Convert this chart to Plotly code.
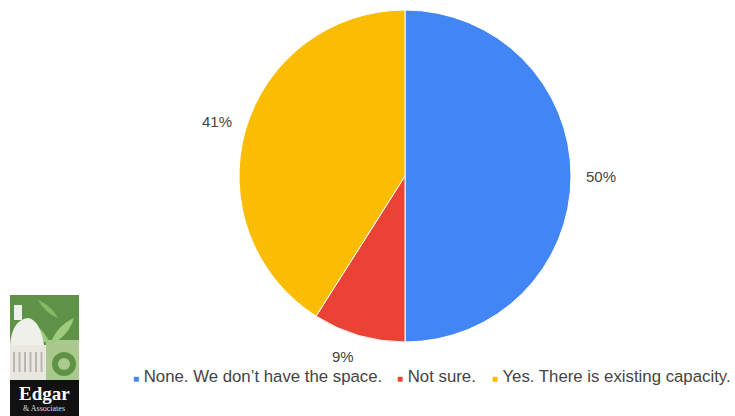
import math
import plotly.graph_objects as go

# Survey responses
categories = ["None. We don\u2019t have the space.", "Not sure.", "Yes. There is existing capacity."]
shares = [50, 9, 41]
colors = ["#4285F4", "#EA4335", "#FBBC04"]

W, H = 735, 416
cx, cy, rad = 405, 176, 166


def px(x):
    return x / W


def py(y):
    return 1 - y / H


fig = go.Figure(go.Pie(
    labels=categories,
    values=shares,
    sort=False,
    direction="clockwise",
    rotation=0,
    marker=dict(colors=colors, line=dict(color="white", width=1)),
    textinfo="none",
    hoverinfo="label+percent",
    showlegend=False,
    domain=dict(x=[px(cx - rad), px(cx + rad)], y=[py(cy + rad), py(cy - rad)]),
))

annotations = []
# percentage labels outside each slice, placed along the slice's mid-angle;
# thin slices get their label tucked in a little
total = sum(shares)
start = 0.0
for v in shares:
    mid = (start + v / 2) / total * 2 * math.pi
    start += v
    thin = v / total <= 0.15
    r = rad * (1.13 if thin else 1.18)
    lx = cx + r * math.sin(mid) - (10 if thin else 0)
    ly = cy - r * math.cos(mid)
    annotations.append(dict(
        x=px(lx), y=py(ly), xref="paper", yref="paper",
        text=f"{round(v / total * 100)}%", showarrow=False,
        font=dict(family="Liberation Sans, Arial", size=15, color="#444444"),
        xanchor="center", yanchor="middle",
    ))

# legend row, one entry per category
legend_x = [131, 395, 490]
for lab, c, lx in zip(categories, colors, legend_x):
    annotations.append(dict(
        x=px(lx), y=py(376), xref="paper", yref="paper",
        text=f"<span style='color:{c};font-size:10px'>\u25A0</span> {lab}",
        showarrow=False,
        font=dict(family="Liberation Sans, Arial", size=16.8, color="#444444"),
        xanchor="left", yanchor="middle",
    ))

# logo text
annotations.append(dict(
    x=px(44), y=py(393), xref="paper", yref="paper", text="<b>Edgar</b>",
    showarrow=False, font=dict(family="Liberation Serif, DejaVu Serif", size=19, color="white"),
    xanchor="center", yanchor="middle",
))
annotations.append(dict(
    x=px(44), y=py(408), xref="paper", yref="paper", text="&amp; Associates",
    showarrow=False, font=dict(family="Liberation Serif, DejaVu Serif", size=8, color="#dddddd"),
    xanchor="center", yanchor="middle",
))


def rect(x0, y0, x1, y1, color):
    return dict(type="rect", xref="paper", yref="paper",
                x0=px(x0), x1=px(x1), y0=py(y1), y1=py(y0),
                fillcolor=color, line=dict(width=0), layer="above")


def leaf(x0, y0, x1, y1, bulge, color):
    # leaf outline between two tips
    mx, my = (x0 + x1) / 2, (y0 + y1) / 2
    dx, dy = x1 - x0, y1 - y0
    nx, ny = -dy, dx
    n = math.hypot(nx, ny)
    nx, ny = nx / n * bulge, ny / n * bulge
    d = (f"M {px(x0):.5f},{py(y0):.5f} Q {px(mx + nx):.5f},{py(my + ny):.5f} {px(x1):.5f},{py(y1):.5f} "
         f"Q {px(mx - nx):.5f},{py(my - ny):.5f} {px(x0):.5f},{py(y0):.5f} Z")
    return dict(type="path", xref="paper", yref="paper", path=d,
                fillcolor=color, line=dict(width=0), layer="above")


shapes = [
    rect(10, 295, 79, 381, "#5e9347"),
    rect(46, 340, 79, 381, "#a9c98e"),
    dict(type="circle", xref="paper", yref="paper", x0=px(52), x1=px(76), y0=py(376), y1=py(352),
         fillcolor="#5e9347", line=dict(width=0), layer="above"),
    dict(type="circle", xref="paper", yref="paper", x0=px(58), x1=px(70), y0=py(370), y1=py(358),
         fillcolor="#a9c98e", line=dict(width=0), layer="above"),
    leaf(30, 322, 50, 345, 7, "#9fcb80"),
    leaf(50, 345, 74, 318, 8, "#9fcb80"),
    leaf(38, 300, 58, 318, 5, "#86b866"),
    # capitol dome and building
    dict(type="path", xref="paper", yref="paper",
         path=(f"M {px(10):.5f},{py(345):.5f} Q {px(12):.5f},{py(320):.5f} {px(28):.5f},{py(318):.5f} "
               f"Q {px(40):.5f},{py(320):.5f} {px(44):.5f},{py(345):.5f} Z"),
         fillcolor="#f0f0ea", line=dict(width=0), layer="above"),
    rect(14, 305, 22, 320, "#f0f0ea"),
    rect(10, 345, 46, 381, "#e8e8e0"),
]
for i in range(6):
    shapes.append(rect(13 + i * 5.5, 352, 15 + i * 5.5, 372, "#b8b8ae"))
shapes.append(rect(10, 380, 79, 416, "#111111"))

fig.update_layout(
    width=W, height=H,
    margin=dict(l=0, r=0, t=0, b=0),
    paper_bgcolor="white",
    plot_bgcolor="white",
    annotations=annotations,
    shapes=shapes,
)

fig.write_html("out.html")
